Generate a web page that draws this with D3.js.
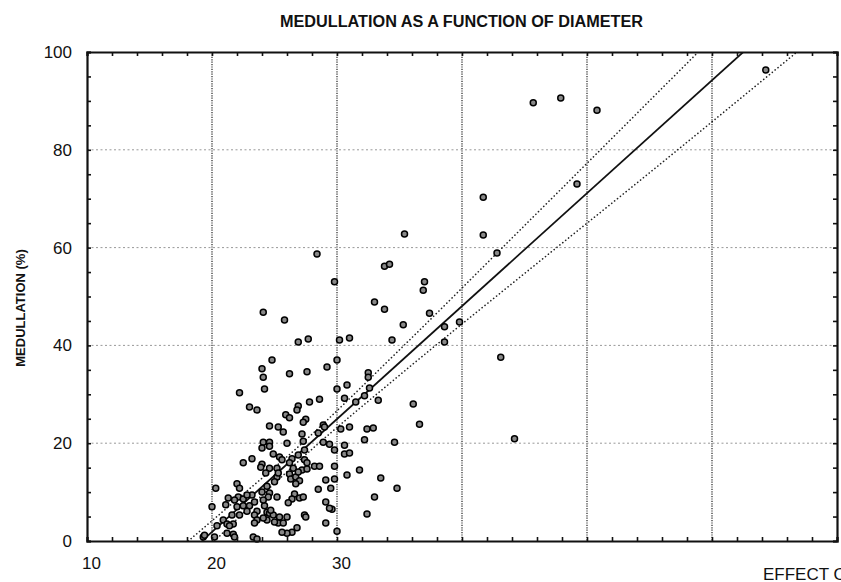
<!DOCTYPE html>
<html>
<head>
<meta charset="utf-8">
<script src="https://cdn.jsdelivr.net/npm/d3@7"></script>
<style>
  body { margin: 0; background: #fff; }
  svg { display: block; font-family: "Liberation Sans", Arial, sans-serif; }
</style>
</head>
<body>
<svg id="chart"></svg>
<script>
// diameter (x) / medullation % (y)
const diameter = [
  64.3,45.7,47.9,50.8,49.2,41.7,41.7,42.8,35.4,28.4,29.8,33.8,34.2,37.0,36.9,33.0,33.8,37.4,35.3,38.6,
  39.8,30.2,31.0,34.4,38.6,43.1,30.0,32.5,32.5,30.8,30.0,32.6,30.6,32.2,31.5,33.3,36.1,36.6,30.3,31.0,
  32.4,32.9,32.2,34.6,30.6,44.2,29.8,30.6,31.0,29.8,31.8,30.8,29.8,33.5,34.8,29.5,33.0,29.6,32.4,30.0,
  24.1,25.8,26.9,27.7,24.8,24.0,24.1,26.2,27.6,29.2,24.2,
  22.2,23.0,23.6,26.9,26.8,27.8,28.6,25.9,26.2,27.5,27.3,24.6,25.3,25.7,28.9,29.0,28.5,27.2,24.1,24.6,
  24.0,24.6,26.0,27.3,27.4,28.9,29.4,24.9,25.4,25.6,26.4,26.2,26.9,27.4,27.6,22.5,23.2,24.0,23.9,24.6,
  25.2,24.3,25.2,26.2,26.3,26.7,27.0,26.7,27.2,27.6,28.2,28.6,29.1,28.5,20.3,22.0,22.2,24.4,24.6,24.5,
  25.2,24.0,23.2,22.1,22.5,21.8,21.3,21.1,22.0,22.5,23.0,22.8,23.6,24.2,24.4,23.4,22.2,21.6,20.9,21.7,
  21.2,21.4,24.6,24.9,25.4,26.0,25.3,25.7,24.4,23.6,23.4,26.6,27.0,27.3,26.4,27.4,27.5,29.1,29.4,29.1,
  26.8,26.4,26.0,25.6,21.7,21.2,21.8,23.3,20.2,20.0,19.3,23.6,
  22.8,23.4,24.1,24.7,20.4,19.4,24.1,26.1,25.3,25.0,26.5,25.0,26.9
];
const medullation = [
  96.3,89.6,90.6,88.1,73.0,70.3,62.6,58.9,62.8,58.7,53.0,56.2,56.6,53.0,51.3,48.9,47.4,46.6,44.2,43.8,
  44.8,41.1,41.5,41.1,40.7,37.6,37.0,34.4,33.5,31.9,31.1,31.3,29.2,29.7,28.4,28.8,28.0,23.9,22.9,23.3,
  22.9,23.1,20.7,20.2,19.6,20.9,18.6,17.8,18.0,15.3,14.5,13.5,12.7,12.9,10.8,10.8,9.0,6.5,5.5,2.0,
  46.8,45.2,40.7,41.3,37.0,35.2,33.5,34.2,34.6,35.6,31.1,
  30.3,27.4,26.8,27.6,26.8,28.4,29.0,25.8,25.2,24.9,24.3,23.5,23.3,22.3,23.7,23.3,22.1,21.9,20.2,20.2,
  19.0,19.4,20.0,20.4,18.6,20.2,19.8,17.8,17.2,16.6,16.8,16.0,17.6,16.6,16.0,16.0,16.8,15.7,15.1,14.9,
  14.9,13.9,13.1,13.7,12.7,13.1,12.3,11.7,14.5,14.7,15.3,15.3,12.5,10.6,10.8,11.7,10.8,11.2,9.8,9.0,
  9.0,10.0,9.4,9.0,8.6,8.4,8.8,7.4,7.0,7.2,7.2,6.1,6.1,7.2,5.9,5.3,5.3,5.3,4.3,3.5,
  3.5,3.1,5.7,5.3,4.9,4.9,3.7,3.7,4.3,4.3,3.7,9.6,8.8,9.0,8.6,5.3,4.9,8.0,6.7,3.7,
  2.7,1.8,1.6,1.8,1.4,1.6,0.8,0.8,0.8,7.0,0.8,0.4,
  9.4,8.0,8.4,6.3,3.1,1.2,4.7,7.8,13.9,12.1,14.9,3.9,14.1
];

// fitted line and its confidence band, read at a few diameters
const fitLine   = [[19.2, 0], [62.5, 100]];
const upperBand = [[18.1, 0], [22, 8.5], [27, 19.5], [35, 39.1], [45, 64.5], [58.9, 100]];
const lowerBand = [[20.2, 0], [27, 16.5], [35, 33.9], [45, 54.7], [55, 75.3], [66.8, 100]];

const xGrid = [20, 30, 40, 50, 60];
const yGrid = [20, 40, 60, 80];
const xTickLabels = [10, 20, 30];
const yTickLabels = [0, 20, 40, 60, 80, 100];

const width = 841, height = 582;
const svg = d3.select('#chart').attr('width', width).attr('height', height);

const x = d3.scaleLinear().domain([10, 70]).range([87, 837]);
const y = d3.scaleLinear().domain([0, 100]).range([541, 52]);

// grid
svg.append('g').selectAll('line')
  .data(xGrid).enter().append('line')
  .attr('x1', d => x(d)).attr('x2', d => x(d))
  .attr('y1', y(100)).attr('y2', y(0))
  .attr('stroke', '#222').attr('stroke-width', 1.2)
  .attr('stroke-dasharray', '1.2,1.2');

svg.append('g').selectAll('line')
  .data(yGrid).enter().append('line')
  .attr('x1', x(10)).attr('x2', x(70))
  .attr('y1', d => y(d)).attr('y2', d => y(d))
  .attr('stroke', '#999').attr('stroke-width', 1)
  .attr('stroke-dasharray', '2,2.5');

// regression + band, clipped to plot
svg.append('clipPath').attr('id', 'plot')
  .append('rect').attr('x', x(10)).attr('y', y(100))
  .attr('width', x(70) - x(10)).attr('height', y(0) - y(100));

const line = d3.line().x(d => x(d[0])).y(d => y(d[1])).curve(d3.curveMonotoneX);
const lines = svg.append('g').attr('clip-path', 'url(#plot)');

lines.append('path').datum(fitLine).attr('d', line)
  .attr('fill', 'none').attr('stroke', '#111').attr('stroke-width', 1.7);

[upperBand, lowerBand].forEach(b => {
  lines.append('path').datum(b).attr('d', line)
    .attr('fill', 'none').attr('stroke', '#222').attr('stroke-width', 1.6)
    .attr('stroke-linecap', 'round').attr('stroke-dasharray', '0.1,3.6');
});

// points
svg.append('g').selectAll('circle')
  .data(diameter.map((d, i) => [d, medullation[i]]))
  .enter().append('circle')
  .attr('cx', d => x(d[0]))
  .attr('cy', d => y(d[1]))
  .attr('r', 3)
  .attr('fill', '#888')
  .attr('stroke', '#000')
  .attr('stroke-width', 1.5);

// frame with inward ticks on all four sides
const xMinor = d3.range(10, 71, 2);
const yMinor = d3.range(0, 101, 5);
const axes = [
  d3.axisBottom(x).tickValues(xMinor).tickSize(-4).tickFormat(''),
  d3.axisTop(x).tickValues(xMinor).tickSize(-4).tickFormat(''),
  d3.axisLeft(y).tickValues(yMinor).tickSize(-4).tickFormat(''),
  d3.axisRight(y).tickValues(yMinor).tickSize(-4).tickFormat('')
];
const pos = [`translate(0,${y(0)})`, `translate(0,${y(100)})`,
             `translate(${x(10)},0)`, `translate(${x(70)},0)`];
axes.forEach((a, i) => {
  const g = svg.append('g').attr('transform', pos[i]).call(a);
  g.select('.domain').attr('stroke', '#111').attr('stroke-width', 2.2);
  g.selectAll('.tick line').attr('stroke', '#111').attr('stroke-width', 1.6);
});

// tick labels
const xl = svg.append('g').attr('transform', `translate(4,${y(0)})`)
  .call(d3.axisBottom(x).tickValues(xTickLabels).tickSize(0).tickPadding(16));
xl.select('.domain').remove();
xl.selectAll('text').attr('font-size', 17).attr('fill', '#111')
  .attr('font-family', '"Liberation Sans", Arial, sans-serif');

const yl = svg.append('g').attr('transform', `translate(${x(10)},0)`)
  .call(d3.axisLeft(y).tickValues(yTickLabels).tickSize(0).tickPadding(15));
yl.select('.domain').remove();
yl.selectAll('text').attr('font-size', 17).attr('fill', '#111')
  .attr('font-family', '"Liberation Sans", Arial, sans-serif');

// titles
svg.append('text')
  .attr('x', 280).attr('y', 27)
  .attr('textLength', 363).attr('lengthAdjust', 'spacingAndGlyphs')
  .attr('font-size', 16).attr('font-weight', 'bold').attr('fill', '#111')
  .text('MEDULLATION AS A FUNCTION OF DIAMETER');

svg.append('text')
  .attr('transform', `translate(25,308) rotate(-90)`)
  .attr('text-anchor', 'middle')
  .attr('font-size', 13).attr('font-weight', 'bold').attr('fill', '#111')
  .text('MEDULLATION (%)');

svg.append('text')
  .attr('x', 763).attr('y', 580)
  .attr('font-size', 17).attr('fill', '#111')
  .text('EFFECT OF DIAMETER');
</script>
</body>
</html>
